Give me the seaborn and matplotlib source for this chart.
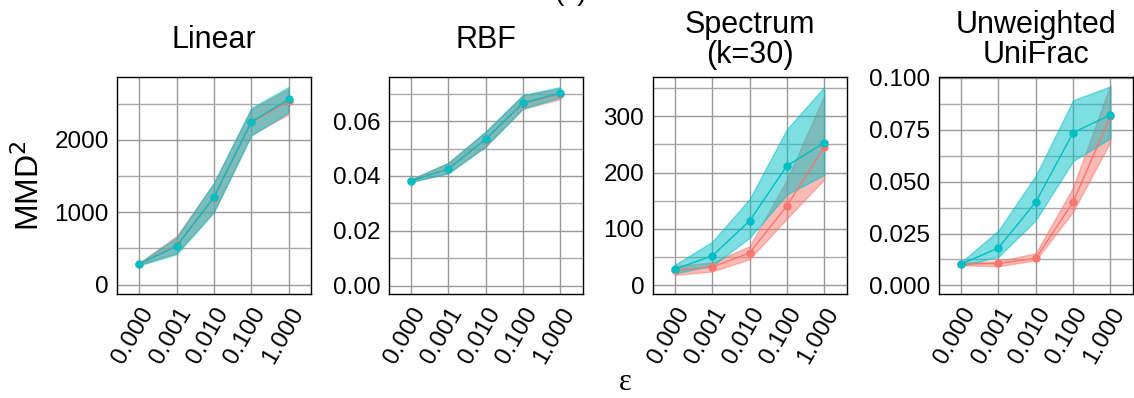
import numpy as np
import pandas as pd
import matplotlib
matplotlib.use("Agg")
import matplotlib.pyplot as plt
from matplotlib.ticker import MultipleLocator, FuncFormatter
import seaborn as sns

eps_labels = ["0.000", "0.001", "0.010", "0.100", "1.000"]
kernels = ["Linear", "RBF", "Spectrum\n(k=30)", "Unweighted\nUniFrac"]
groups = ["null", "alternative"]

# Linear
lin_red_mean = [285, 540, 1200, 2240, 2530]
lin_red_lo = [270, 440, 1010, 2070, 2350]
lin_red_hi = [300, 670, 1400, 2420, 2700]
lin_teal_mean = [282, 531, 1209, 2247, 2557]
lin_teal_lo = [268, 420, 1000, 2058, 2378]
lin_teal_hi = [298, 650, 1407, 2437, 2727]

# RBF
rbf_red_mean = [0.0382, 0.0427, 0.0532, 0.0664, 0.0698]
rbf_red_lo = [0.0378, 0.0410, 0.0507, 0.0645, 0.0680]
rbf_red_hi = [0.0387, 0.0448, 0.0560, 0.0693, 0.0720]
rbf_teal_mean = [0.0382, 0.0425, 0.0533, 0.0666, 0.0702]
rbf_teal_lo = [0.0378, 0.0409, 0.0507, 0.0645, 0.0687]
rbf_teal_hi = [0.0387, 0.0447, 0.0562, 0.0695, 0.0724]

# Spectrum (k=30)
spec_red_mean = [26, 32, 57, 141, 245]
spec_red_lo = [18, 24, 46, 118, 188]
spec_red_hi = [34, 40, 69, 187, 337]
spec_teal_mean = [28, 52, 114, 212, 253]
spec_teal_lo = [21, 34, 84, 161, 196]
spec_teal_hi = [36, 77, 153, 277, 352]

# Unweighted UniFrac
uni_red_mean = [0.0103, 0.0106, 0.0130, 0.0402, 0.0814]
uni_red_lo = [0.0097, 0.0093, 0.0121, 0.0355, 0.0692]
uni_red_hi = [0.0109, 0.0117, 0.0155, 0.0472, 0.0966]
uni_teal_mean = [0.0103, 0.0181, 0.0402, 0.0735, 0.0821]
uni_teal_lo = [0.0095, 0.0138, 0.0314, 0.0599, 0.0708]
uni_teal_hi = [0.0112, 0.0265, 0.0529, 0.0891, 0.0958]

series = [
    (lin_red_mean, lin_red_lo, lin_red_hi, lin_teal_mean, lin_teal_lo, lin_teal_hi),
    (rbf_red_mean, rbf_red_lo, rbf_red_hi, rbf_teal_mean, rbf_teal_lo, rbf_teal_hi),
    (spec_red_mean, spec_red_lo, spec_red_hi, spec_teal_mean, spec_teal_lo, spec_teal_hi),
    (uni_red_mean, uni_red_lo, uni_red_hi, uni_teal_mean, uni_teal_lo, uni_teal_hi),
]

ylims = [(-130, 2866), (-0.0031, 0.0761), (-16, 370), (-0.0041, 0.1003)]
major_steps = [1000, 0.02, 100, 0.025]
tick_fmt = ["{:.0f}", "{:.2f}", "{:.0f}", "{:.3f}"]

colors = {"null": "#F8766D", "alternative": "#00BFC4"}

sns.set_theme(style="white")
plt.rcParams["font.family"] = ["Liberation Sans", "DejaVu Sans"]
for k in ["text.color", "axes.labelcolor", "xtick.color", "ytick.color"]:
    plt.rcParams[k] = "black"

W, H = 1134, 398
fig = plt.figure(figsize=(W / 100, H / 100), dpi=100)
lefts = [117, 388.5, 652.6, 938.8]
width = 194
top, bottom = 77, 294
title_y = (bottom - 40) / (bottom - top)

for i, (kname, s) in enumerate(zip(kernels, series)):
    ax = fig.add_axes([lefts[i] / W, 1 - bottom / H, width / W, (bottom - top) / H])
    rm, rl, rh, tm, tl, th = s
    x = np.arange(len(eps_labels))
    df = pd.DataFrame({
        "x": np.concatenate([x, x]),
        "mmd": np.concatenate([rm, tm]),
        "group": [groups[0]] * len(x) + [groups[1]] * len(x),
    })
    for g, lo, hi in [(groups[0], rl, rh), (groups[1], tl, th)]:
        ax.fill_between(x, lo, hi, facecolor=colors[g], edgecolor=colors[g],
                        alpha=0.5, linewidth=1.0, zorder=2)
    sns.lineplot(data=df, x="x", y="mmd", hue="group", palette=colors,
                 marker="o", markersize=6, markeredgewidth=0, linewidth=1.0,
                 legend=False, ax=ax, zorder=3)
    ax.set_xlim(-0.6, 4.6)
    ax.set_ylim(*ylims[i])
    ax.set_xticks(x)
    ax.set_xticklabels(eps_labels, rotation=60, ha="right", rotation_mode="anchor",
                       fontsize=17.5)
    ax.yaxis.set_major_locator(MultipleLocator(major_steps[i]))
    ax.yaxis.set_minor_locator(MultipleLocator(major_steps[i] / 2))
    fmt = tick_fmt[i]
    ax.yaxis.set_major_formatter(FuncFormatter(lambda v, p, f=fmt: f.format(v)))
    ax.tick_params(axis="y", labelsize=17.5, length=4, width=1, color="black", pad=2)
    ax.tick_params(axis="x", length=4, width=1, color="black", pad=3)
    ax.tick_params(axis="y", which="minor", length=0)
    ax.grid(True, which="major", color="#999999", linewidth=1.0)
    ax.grid(True, which="minor", axis="y", color="#aaaaaa", linewidth=1.0)
    ax.set_axisbelow(True)
    for sp in ax.spines.values():
        sp.set_color("black")
        sp.set_linewidth(1.0)
    ax.set_xlabel("")
    if i == 0:
        ax.set_ylabel("MMD$^2$", fontsize=23, labelpad=6)
    else:
        ax.set_ylabel("")
    ax.set_title(kname, fontsize=22, y=title_y, va="center", pad=0, linespacing=1.0)

fig.text(625 / W, 1 - 390 / H, "ε", ha="center", va="baseline", fontsize=22,
         family=["Liberation Serif", "DejaVu Serif"])
fig.text(0.503, 1.0, "(c)", ha="center", va="baseline", fontsize=20)

fig.savefig("out.png", dpi=100)
